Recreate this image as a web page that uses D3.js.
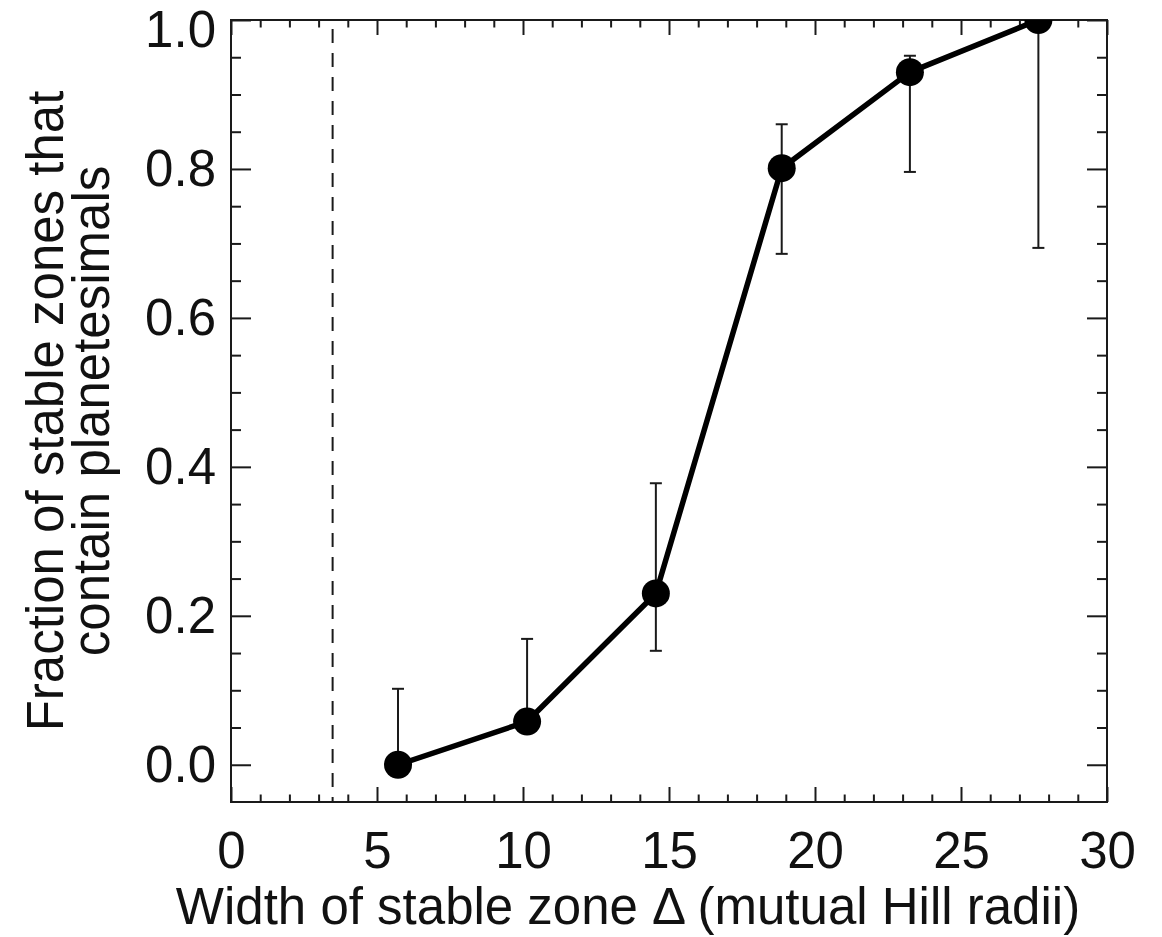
<!DOCTYPE html>
<html>
<head>
<meta charset="utf-8">
<script src="https://cdn.jsdelivr.net/npm/d3@7"></script>
<style>
  body { margin: 0; background: #fff; }
  text { font-family: "Liberation Sans", Arial, Helvetica, sans-serif; fill: #111; }
</style>
</head>
<body>
<div id="chart"></div>
<script>
// values
const zoneWidth = [5.72, 10.14, 14.55, 18.86, 23.25, 27.65];
const fraction = [0.0, 0.058, 0.230, 0.801, 0.930, 1.0];
const errHigh = [0.102, 0.169, 0.378, 0.860, 0.952, 1.0];
const errLow = [0.0, 0.05, 0.153, 0.686, 0.796, 0.694];
const cutoff = 3.48;

const xMajor = [0, 5, 10, 15, 20, 25, 30];
const yMajor = [0.0, 0.2, 0.4, 0.6, 0.8, 1.0];

const width = 1162,
    height = 937
const margin = { top: 20, right: 55, bottom: 135, left: 231 }
const innerW = width - margin.left - margin.right,
    innerH = height - margin.top - margin.bottom

const ink = "#1a1a1a"
const fontSize = 51

const svg = d3.select("#chart")
    .append("svg")
        .attr("width", width)
        .attr("height", height)

const g = svg.append("g")
    .attr("transform", `translate(${margin.left},${margin.top})`)

const x = d3.scaleLinear().domain([0, 30]).range([0, innerW])
const y = d3.scaleLinear().domain([-0.05, 1.0]).range([innerH, 0])

const xMinor = d3.range(0, 31, 1).filter(v => v % 5 !== 0)
const yMinor = d3.range(0, 21).map(i => +(i * 0.05).toFixed(2)).filter(v => Math.round(v * 100) % 20 !== 0)

function styleAxis(sel) {
    sel.select(".domain").remove()
    sel.selectAll("line").attr("stroke", ink).attr("stroke-width", 2)
    sel.selectAll("text").style("font-size", fontSize + "px").attr("fill", "#000")
}

// bottom
g.append("g").attr("transform", `translate(0,${innerH})`)
    .call(d3.axisBottom(x).tickValues(xMajor).tickSize(-15).tickPadding(30).tickFormat(d3.format("d")))
    .call(styleAxis)
g.append("g").attr("transform", `translate(0,${innerH})`)
    .call(d3.axisBottom(x).tickValues(xMinor).tickSize(-7.5).tickFormat(""))
    .call(styleAxis)
// top
g.append("g")
    .call(d3.axisTop(x).tickValues(xMajor).tickSize(-15).tickFormat(""))
    .call(styleAxis)
g.append("g")
    .call(d3.axisTop(x).tickValues(xMinor).tickSize(-7.5).tickFormat(""))
    .call(styleAxis)
// left
g.append("g")
    .call(d3.axisLeft(y).tickValues(yMajor).tickSize(-20).tickPadding(15).tickFormat(d3.format(".1f")))
    .call(styleAxis)
    .selectAll("text")
        .attr("y", d => d === 1.0 ? 10 : 0)   // keep the top label inside the page
g.append("g")
    .call(d3.axisLeft(y).tickValues(yMinor).tickSize(-10).tickFormat(""))
    .call(styleAxis)
// right
g.append("g").attr("transform", `translate(${innerW},0)`)
    .call(d3.axisRight(y).tickValues(yMajor).tickSize(-20).tickFormat(""))
    .call(styleAxis)
g.append("g").attr("transform", `translate(${innerW},0)`)
    .call(d3.axisRight(y).tickValues(yMinor).tickSize(-10).tickFormat(""))
    .call(styleAxis)

// frame
g.append("rect")
    .attr("width", innerW)
    .attr("height", innerH)
    .attr("fill", "none")
    .attr("stroke", ink)
    .attr("stroke-width", 2)

// dashed cutoff line
g.append("line")
    .attr("x1", x(cutoff)).attr("x2", x(cutoff))
    .attr("y1", y(1.0) + 9).attr("y2", innerH)
    .attr("stroke", ink)
    .attr("stroke-width", 2)
    .attr("stroke-dasharray", "14,10")

const data = zoneWidth.map((d, i) => ({ x: d, y: fraction[i], hi: errHigh[i], lo: errLow[i] }))

// error bars
const eb = g.append("g").attr("stroke", ink).attr("stroke-width", 2)
data.forEach(d => {
    eb.append("line")
        .attr("x1", x(d.x)).attr("x2", x(d.x))
        .attr("y1", y(d.hi)).attr("y2", y(d.lo))
    if (d.hi > d.y && d.hi < 1.0) {
        eb.append("line")
            .attr("x1", x(d.x) - 6).attr("x2", x(d.x) + 6)
            .attr("y1", y(d.hi)).attr("y2", y(d.hi))
    }
    if (d.lo < d.y) {
        eb.append("line")
            .attr("x1", x(d.x) - 6).attr("x2", x(d.x) + 6)
            .attr("y1", y(d.lo)).attr("y2", y(d.lo))
    }
})

// clip for line + markers
svg.append("defs").append("clipPath").attr("id", "plotClip")
    .append("rect").attr("width", innerW).attr("height", innerH)

const plot = g.append("g").attr("clip-path", "url(#plotClip)")

plot.append("path")
    .datum(data)
    .attr("fill", "none")
    .attr("stroke", "#000")
    .attr("stroke-width", 5.5)
    .attr("stroke-linejoin", "round")
    .attr("d", d3.line().x(d => x(d.x)).y(d => y(d.y)))

plot.selectAll("circle")
    .data(data)
    .enter()
    .append("circle")
        .attr("cx", d => x(d.x))
        .attr("cy", d => y(d.y))
        .attr("r", 14)
        .attr("fill", "#000")

// axis titles
svg.append("text")
    .attr("x", 628)
    .attr("y", 924)
    .attr("text-anchor", "middle")
    .attr("fill", "#000")
    .style("font-size", fontSize + "px")
    .text("Width of stable zone \u0394 (mutual Hill radii)")

const yTitle = svg.append("text")
    .attr("transform", `translate(0,${margin.top + innerH / 2}) rotate(-90)`)
    .attr("text-anchor", "middle")
    .attr("fill", "#000")
    .style("font-size", fontSize + "px")
yTitle.append("tspan").attr("x", 0).attr("y", 63).text("Fraction of stable zones that")
yTitle.append("tspan").attr("x", 0).attr("y", 109).text("contain planetesimals")
</script>
</body>
</html>
